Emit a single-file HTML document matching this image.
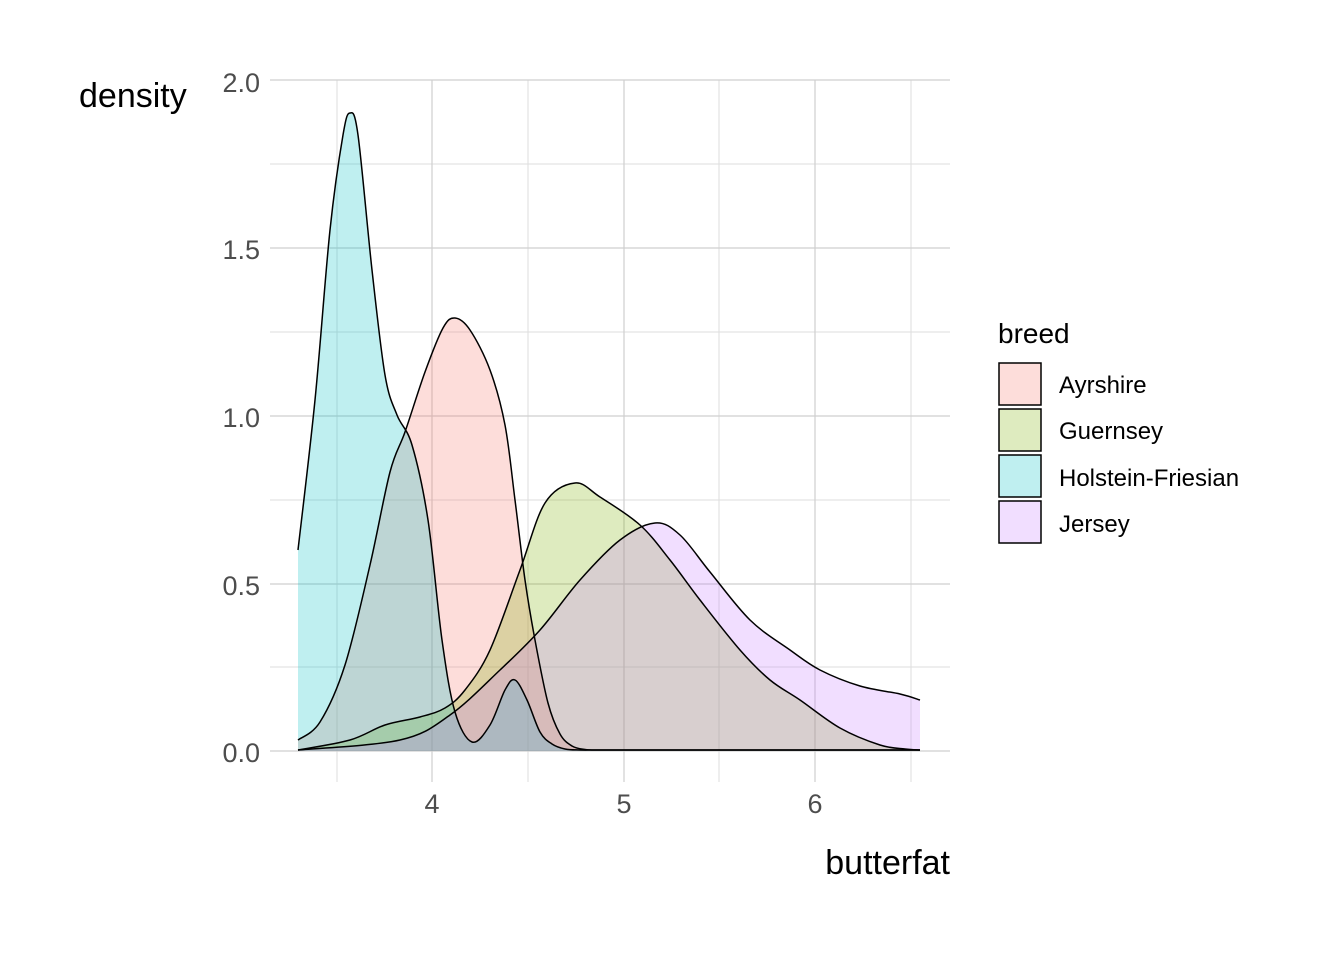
<!DOCTYPE html>
<html><head><meta charset="utf-8"><style>body{margin:0;background:#fff}svg{display:block}text{font-family:"Liberation Sans",sans-serif}</style></head>
<body>
<svg id="s" width="1344" height="960" xmlns="http://www.w3.org/2000/svg">
<g stroke="#dedede" stroke-width="1">
<line x1="270" x2="950" y1="164" y2="164"/><line x1="270" x2="950" y1="332" y2="332"/><line x1="270" x2="950" y1="500" y2="500"/><line x1="270" x2="950" y1="667" y2="667"/>
<line x1="337" x2="337" y1="80" y2="782"/><line x1="528" x2="528" y1="80" y2="782"/><line x1="719" x2="719" y1="80" y2="782"/><line x1="911" x2="911" y1="80" y2="782"/>
</g>
<g stroke="#cfcfcf" stroke-width="1.2">
<line x1="270" x2="950" y1="80" y2="80"/><line x1="270" x2="950" y1="248" y2="248"/><line x1="270" x2="950" y1="416" y2="416"/><line x1="270" x2="950" y1="584" y2="584"/><line x1="270" x2="950" y1="751" y2="751"/>
<line x1="432" x2="432" y1="80" y2="782"/><line x1="624" x2="624" y1="80" y2="782"/><line x1="815" x2="815" y1="80" y2="782"/>
</g>
<g id="curves" stroke="#000" stroke-width="1.5"></g>
<g font-size="27" fill="#4d4d4d" text-anchor="end">
<text x="260" y="92">2.0</text><text x="260" y="259">1.5</text><text x="260" y="427">1.0</text><text x="260" y="595">0.5</text><text x="260" y="762">0.0</text>
</g>
<g font-size="27" fill="#4d4d4d" text-anchor="middle">
<text x="432" y="813">4</text><text x="624" y="813">5</text><text x="815" y="813">6</text>
</g>
<text x="79" y="107" font-size="34">density</text>
<text x="950" y="874" font-size="34" text-anchor="end">butterfat</text>
<text x="998" y="343" font-size="28">breed</text>
<g stroke="#000" stroke-width="1.5">
<rect x="999" y="363" width="42" height="42" fill="#F8766D" fill-opacity="0.25"/>
<rect x="999" y="409" width="42" height="42" fill="#7CAE00" fill-opacity="0.25"/>
<rect x="999" y="455" width="42" height="42" fill="#00BFC4" fill-opacity="0.25"/>
<rect x="999" y="501" width="42" height="42" fill="#C77CFF" fill-opacity="0.25"/>
</g>
<g font-size="24">
<text x="1059" y="393">Ayrshire</text><text x="1059" y="439">Guernsey</text><text x="1059" y="486">Holstein-Friesian</text><text x="1059" y="532">Jersey</text>
</g>
</svg>
<script>
function path(p){let d="M"+p[0][0]+","+p[0][1];for(let i=0;i<p.length-1;i++){const a=p[i-1]||p[i],b=p[i],c=p[i+1],e=p[i+2]||c;d+=" C"+(b[0]+(c[0]-a[0])/6)+","+(b[1]+(c[1]-a[1])/6)+" "+(c[0]-(e[0]-b[0])/6)+","+(c[1]-(e[1]-b[1])/6)+" "+c[0]+","+c[1];}return d;}
const S=[
["#F8766D",[[298,740],[320,722],[345,665],[370,565],[390,472],[405,432],[425,372],[443,328],[455,318],[470,330],[490,370],[505,425],[515,500],[525,580],[535,640],[548,703],[560,734],[572,746],[585,749.5],[600,750],[630,750],[700,750],[800,750],[920,750]]],
["#7CAE00",[[298,750],[350,740],[385,725],[420,717],[445,708],[465,690],[490,650],[520,570],[545,503],[575,483],[600,497],[640,525],[670,560],[700,600],[740,650],[770,680],[800,700],[840,728],[880,745],[905,749],[920,750]]],
["#00BFC4",[[298,550],[315,400],[330,230],[343,135],[350,113],[358,135],[372,270],[385,375],[397,415],[412,445],[428,520],[442,640],[455,712],[472,742],[490,725],[505,690],[515,680],[527,700],[540,732],[552,744],[565,749],[580,750],[600,750],[650,750],[750,750],[850,750],[920,750]]],
["#C77CFF",[[298,750],[400,740],[450,715],[500,670],[540,630],[580,580],[620,540],[655,523],[680,535],[710,572],[750,620],[790,650],[820,670],[860,686],[900,694],[920,700]]]];
const g=document.getElementById("curves");
for(const [c,p] of S){const d=path(p);const f=document.createElementNS("http://www.w3.org/2000/svg","path");f.setAttribute("d",d+" L920,751 L298,751 Z");f.setAttribute("fill",c);f.setAttribute("fill-opacity","0.25");f.setAttribute("stroke","none");g.appendChild(f);}
for(const [c,p] of S){const l=document.createElementNS("http://www.w3.org/2000/svg","path");l.setAttribute("d",path(p));l.setAttribute("fill","none");g.appendChild(l);}
</script>
</body></html>
